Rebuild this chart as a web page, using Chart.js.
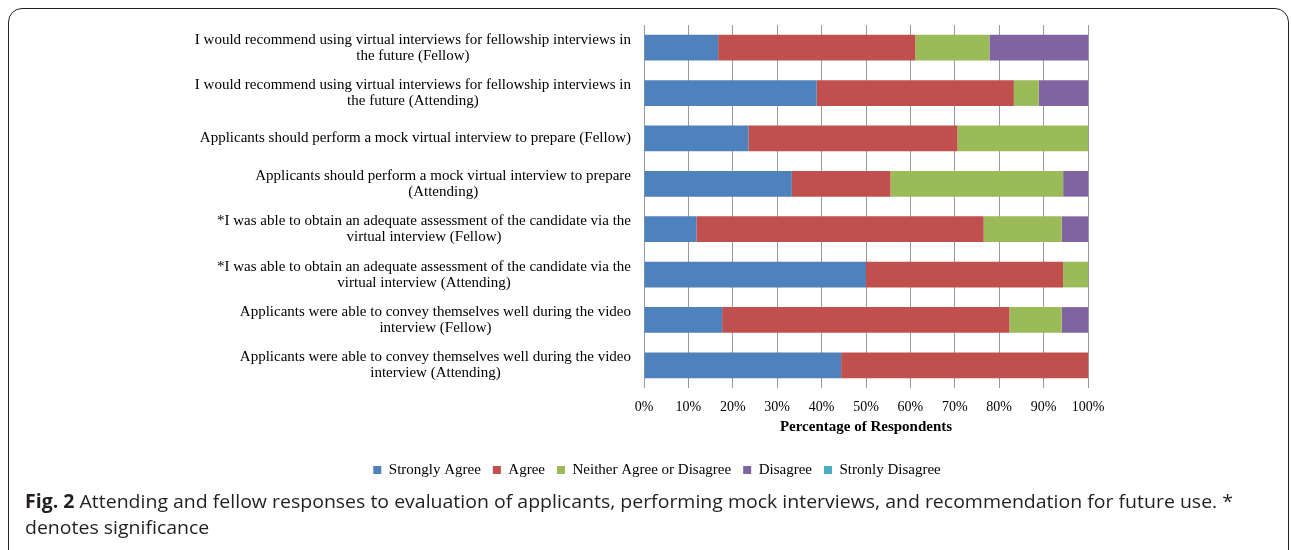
<!DOCTYPE html>
<html>
<head>
<meta charset="utf-8">
<script src="https://cdn.jsdelivr.net/npm/chart.js@4.4.1/dist/chart.umd.min.js"></script>
<style>
  html, body { margin: 0; padding: 0; background: #fff; overflow: hidden; }
  body { width: 1292px; height: 550px; position: relative; }
  #frame {
    position: absolute; left: 8px; top: 8px; width: 1281px; height: 560px;
    border: 1.5px solid #222; border-radius: 14px; box-sizing: border-box;
  }
  #chartBox { position: absolute; left: 0; top: 0; width: 1292px; height: 500px; }
  #caption {
    position: absolute; left: 25px; top: 488px; white-space: nowrap;
    font-family: "Open Sans", sans-serif; font-size: 19px; line-height: 26px;
    color: #231f20; transform-origin: 0 0;
  }
  #caption b { font-weight: 700; }
</style>
</head>
<body>
<div id="frame"></div>
<div id="chartBox"><canvas id="grafico"></canvas></div>
<div id="caption"><b>Fig. 2</b> Attending and fellow responses to evaluation of applicants, performing mock interviews, and recommendation for future use. *<br>denotes significance</div>

<script>
// categorias (de arriba hacia abajo)
const categorias = [
  ["I would recommend using virtual interviews for fellowship interviews in", "the future (Fellow)"],
  ["I would recommend using virtual interviews for fellowship interviews in", "the future (Attending)"],
  ["Applicants should perform a mock virtual interview to prepare (Fellow)"],
  ["Applicants should perform a mock virtual interview to prepare", "(Attending)"],
  ["*I was able to obtain an adequate assessment of the candidate via the", "virtual interview (Fellow)"],
  ["*I was able to obtain an adequate assessment of the candidate via the", "virtual interview (Attending)"],
  ["Applicants were able to convey themselves well during the video", "interview (Fellow)"],
  ["Applicants were able to convey themselves well during the video", "interview (Attending)"]
];

// porcentajes
const stronglyAgree    = [16.7, 38.9, 23.5, 33.3, 11.8, 50.0, 17.6, 44.4];
const agree            = [44.4, 44.4, 47.1, 22.2, 64.7, 44.4, 64.7, 55.6];
const neither          = [16.7, 5.6, 29.4, 38.9, 17.6, 5.6, 11.8, 0];
const disagree         = [22.2, 11.1, 0, 5.6, 5.9, 0, 5.9, 0];
const stronglyDisagree = [0, 0, 0, 0, 0, 0, 0, 0];

const xTicks = [0, 10, 20, 30, 40, 50, 60, 70, 80, 90, 100];

const serif = "'Liberation Serif', 'Times New Roman', serif";

// etiquetas del eje y: bloque alineado a la derecha, lineas centradas
const etiquetasY = {
  id: "etiquetasY",
  afterDraw(chart) {
    const ctx = chart.ctx;
    const yScale = chart.scales.y;
    const derecha = chart.chartArea.left - 13;
    const lineH = 16;
    ctx.save();
    ctx.font = "15px " + serif;
    ctx.fillStyle = "#000";
    ctx.textAlign = "center";
    ctx.textBaseline = "middle";
    categorias.forEach((lineas, i) => {
      const y = yScale.getPixelForTick(i);
      const ancho = Math.max(...lineas.map(l => ctx.measureText(l).width));
      const cx = derecha - ancho / 2;
      const y0 = y - (lineas.length - 1) * lineH / 2;
      lineas.forEach((l, j) => ctx.fillText(l, cx, y0 + j * lineH));
    });
    ctx.restore();
  }
};

const chart = new Chart(document.getElementById("grafico"), {
  type: "bar",
  data: {
    labels: categorias,
    datasets: [
      { label: "Strongly Agree", data: stronglyAgree, backgroundColor: "#4F81BD" },
      { label: "Agree", data: agree, backgroundColor: "#C0504D" },
      { label: "Neither Agree or Disagree", data: neither, backgroundColor: "#9BBB59" },
      { label: "Disagree", data: disagree, backgroundColor: "#8064A2" },
      { label: "Stronly Disagree", data: stronglyDisagree, backgroundColor: "#4BACC6" }
    ]
  },
  options: {
    indexAxis: "y",
    responsive: true,
    maintainAspectRatio: false,
    animation: false,
    barPercentage: 0.566,
    categoryPercentage: 1,
    layout: { padding: { left: 226, right: 204, top: 25, bottom: 12.5 } },
    plugins: {
      tooltip: { enabled: false },
      legend: {
        position: "bottom",
        labels: {
          font: { family: serif, size: 15 },
          color: "#000",
          boxWidth: 8,
          boxHeight: 8,
          padding: 12
        }
      }
    },
    scales: {
      x: {
        stacked: true,
        min: 0,
        max: 100,
        afterBuildTicks: (scale) => { scale.ticks = xTicks.map(v => ({ value: v })); },
        afterFit: (scale) => { scale.height = 62.5; },
        grid: { color: "#9a9a9a", lineWidth: 1, drawTicks: false },
        border: { display: false },
        ticks: {
          padding: 11,
          color: "#000",
          font: { family: serif, size: 14 },
          callback: (v) => v + "%"
        },
        title: {
          display: true,
          text: "Percentage of Respondents",
          color: "#000",
          font: { family: serif, size: 15, weight: "bold" },
          padding: { top: 2, bottom: 14.5 }
        }
      },
      y: {
        stacked: true,
        afterFit: (scale) => { scale.width = 418; },
        grid: { display: false },
        border: { display: false },
        ticks: { display: false }
      }
    }
  },
  plugins: [etiquetasY]
});

// ajustar el ancho del pie de figura
const cap = document.getElementById("caption");
const anchoCap = cap.getBoundingClientRect().width;
cap.style.transform = "scaleX(" + (1208 / anchoCap) + ")";
</script>
</body>
</html>
